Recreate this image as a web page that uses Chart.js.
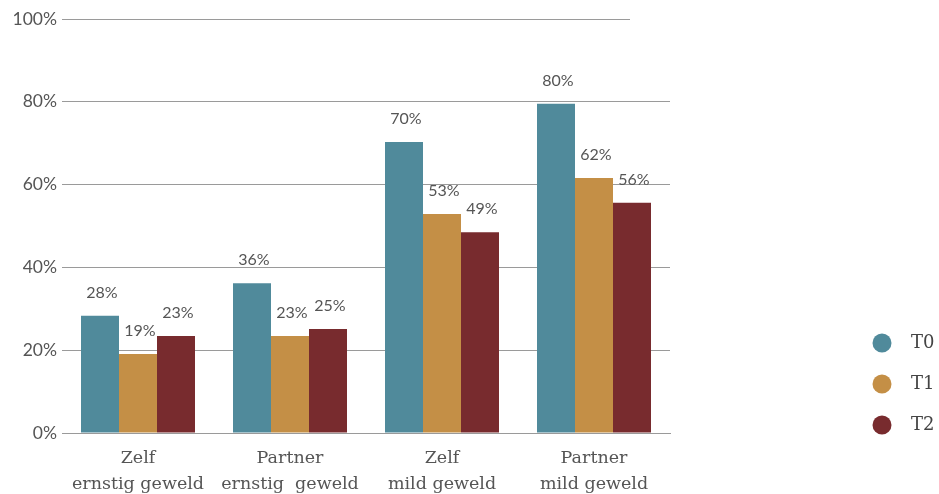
<!DOCTYPE html>
<html>
<head>
<meta charset="utf-8">
<script src="https://cdn.jsdelivr.net/npm/chart.js@4.4.1/dist/chart.umd.min.js"></script>
<style>
  html, body { margin: 0; padding: 0; background: #fff; }
  #wrap { position: relative; width: 939px; height: 494px; }
</style>
</head>
<body>
<div id="wrap"><canvas id="chart" width="939" height="494"></canvas></div>
<script>
// Geweld per meetmoment (T0, T1, T2)
const categories = [
  ['Zelf', 'ernstig geweld'],
  ['Partner', 'ernstig  geweld'],
  ['Zelf', 'mild geweld'],
  ['Partner', 'mild geweld'],
];
const seriesNames = ['T0', 'T1', 'T2'];
const t0Values = [28.3, 36.2, 70.3, 79.5];
const t1Values = [19.1, 23.4, 52.9, 61.6];
const t2Values = [23.4, 25.1, 48.5, 55.6];
const yTicks = [0, 20, 40, 60, 80, 100];

const COLORS = ['#508A9B', '#C48F46', '#782B2E'];
const GRID = '#9a9a9a';

// value labels above each bar
const valueLabels = {
  id: 'valueLabels',
  afterDatasetsDraw(chart) {
    const ctx = chart.ctx;
    ctx.save();
    ctx.font = '16px Lato, sans-serif';
    ctx.fillStyle = '#555';
    ctx.textAlign = 'center';
    ctx.textBaseline = 'middle';
    chart.data.datasets.forEach((ds, i) => {
      chart.getDatasetMeta(i).data.forEach((bar, j) => {
        ctx.fillText(Math.round(ds.data[j]) + '%', bar.x + 2, bar.y - 23);
      });
    });
    ctx.restore();
  }
};

// top gridline is shorter than the others in the original
const topLine = {
  id: 'topLine',
  beforeDatasetsDraw(chart) {
    const { ctx, chartArea, scales } = chart;
    const y = scales.y.getPixelForValue(100);
    ctx.save();
    ctx.strokeStyle = GRID;
    ctx.lineWidth = 1;
    ctx.beginPath();
    ctx.moveTo(chartArea.left, Math.round(y) + 0.5);
    ctx.lineTo(chartArea.right - 40, Math.round(y) + 0.5);
    ctx.stroke();
    ctx.restore();
  }
};

// legend on the right, drawn by hand so the plot keeps its width
const sideLegend = {
  id: 'sideLegend',
  afterDraw(chart) {
    const ctx = chart.ctx;
    const x = chart.chartArea.right + 212;
    ctx.save();
    ctx.font = '18px "DejaVu Serif", serif';
    ctx.textBaseline = 'middle';
    ctx.textAlign = 'left';
    chart.data.datasets.forEach((ds, i) => {
      const y = 343 + i * 41;
      ctx.fillStyle = ds.backgroundColor;
      ctx.beginPath();
      ctx.arc(x, y, 9.5, 0, Math.PI * 2);
      ctx.fill();
      ctx.fillStyle = '#444';
      ctx.fillText(ds.label, x + 29, y);
    });
    ctx.restore();
  }
};

const seriesValues = [t0Values, t1Values, t2Values];

new Chart(document.getElementById('chart'), {
  type: 'bar',
  data: {
    labels: categories,
    datasets: seriesNames.map((name, i) => ({
      label: name,
      data: seriesValues[i],
      backgroundColor: COLORS[i],
      borderWidth: 0,
      categoryPercentage: 0.75,
      barPercentage: 1.0,
    })),
  },
  options: {
    responsive: false,
    animation: false,
    layout: {
      padding: { left: 0, right: 269, top: 19, bottom: 0 },
    },
    plugins: {
      legend: { display: false },
      tooltip: { enabled: false },
    },
    scales: {
      x: {
        grid: { display: false, drawTicks: false },
        border: { display: true, color: GRID, width: 1 },
        ticks: {
          padding: 13,
          color: '#555',
          font: { family: '"DejaVu Serif", serif', size: 17.5, lineHeight: 1.48 },
          maxRotation: 0,
          autoSkip: false,
        },
        afterFit(scale) { scale.height = 61; },
      },
      y: {
        min: 0,
        max: 100,
        afterBuildTicks(scale) {
          scale.ticks = yTicks.map(v => ({ value: v }));
        },
        grid: {
          drawTicks: false,
          color: (c) => (c.tick && c.tick.value === 100 ? 'rgba(0,0,0,0)' : GRID),
        },
        border: { display: false },
        ticks: {
          padding: 5,
          color: '#555',
          font: { family: 'Lato, sans-serif', size: 17.5 },
          callback: (v) => v + '%',
        },
        afterFit(scale) { scale.width = 62; },
      },
    },
  },
  plugins: [topLine, valueLabels, sideLegend],
});
</script>
</body>
</html>
